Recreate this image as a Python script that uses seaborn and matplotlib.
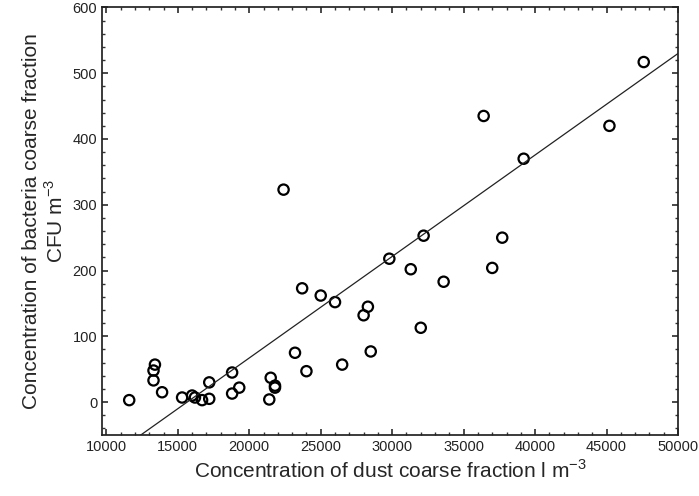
import numpy as np
import matplotlib
matplotlib.use("Agg")
import matplotlib.pyplot as plt
import seaborn as sns
from matplotlib.ticker import AutoMinorLocator

dust = [11600, 13400, 13300, 13300, 13900, 15300, 16000, 16200, 16700, 17200,
        17200, 18800, 18800, 19300, 21400, 21500, 21800, 21800, 22400, 23700,
        23200, 24000, 25000, 26000, 26500, 28000, 28300, 28500, 29800, 31300,
        32000, 32200, 33600, 36400, 37000, 37700, 39200, 45200, 47600]
bacteria = [3, 57, 48, 33, 15, 7, 10, 7, 3, 5,
            30, 13, 45, 22, 4, 37, 25, 22, 323, 173,
            75, 47, 162, 152, 57, 132, 145, 77, 218, 202,
            113, 253, 183, 435, 204, 250, 370, 420, 517]

# fitted line as drawn in the source figure
fit_slope = 0.01543
fit_intercept = -241.5

sns.set_theme(style="ticks")
plt.rcParams['font.family'] = ['Liberation Sans', 'DejaVu Sans']

fig, ax = plt.subplots(figsize=(6.99, 4.96), dpi=100)
sns.scatterplot(x=dust, y=bacteria, ax=ax, marker='o', s=55,
                facecolors='none', edgecolor='black', linewidth=1.6)

xs = np.array([9700, 50000])
ax.plot(xs, fit_slope * xs + fit_intercept, color='#222222', lw=0.9)

ax.set_xlim(9700, 50000)
ax.set_ylim(-50, 600)
ax.set_xticks(range(10000, 50001, 5000))
ax.set_yticks(range(0, 601, 100))
ax.xaxis.set_minor_locator(AutoMinorLocator(5))
ax.yaxis.set_minor_locator(AutoMinorLocator(5))
ax.tick_params(which='both', direction='in', top=True, right=True, labelsize=10.5,
               color='#333333', labelcolor='#222222')
ax.tick_params(which='major', length=4)
ax.tick_params(which='minor', length=2.5)
for s in ax.spines.values():
    s.set_color('#222222')
ax.set_xlabel(r'Concentration of dust coarse fraction l m$^{\mathregular{-3}}$', fontsize=15)
ax.set_ylabel('Concentration of bacteria coarse fraction\n' + r'CFU m$^{\mathregular{-3}}$', fontsize=15)

fig.subplots_adjust(left=0.146, right=0.97, top=0.985, bottom=0.123)
fig.savefig('out.png', dpi=100)
